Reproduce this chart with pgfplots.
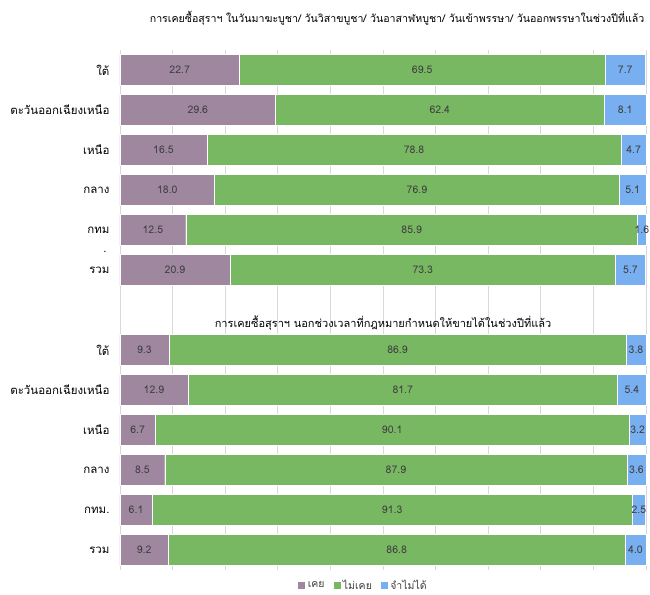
\documentclass[border=0pt]{standalone}
\usepackage{fontspec}
\usepackage{pgfplots}
\usepackage{pgfplotstable}
\pgfplotsset{compat=1.18}
\setmainfont[Script=Thai]{Loma}
\definecolor{cPur}{HTML}{9F87A0}
\definecolor{cGrn}{HTML}{79B862}
\definecolor{cBlu}{HTML}{78AFF0}
\definecolor{cTxt}{HTML}{404040}
\definecolor{cGrid}{HTML}{D9D9D9}
% y = row, a = เคย, b = ไม่เคย, c = จำไม่ได้
\pgfplotstableread{
y a b c
0 22.7 69.5 7.7
1 29.6 62.4 8.1
2 16.5 78.8 4.7
3 18.0 76.9 5.1
4 12.5 85.9 1.6
5 20.9 73.3 5.7
7 9.3 86.9 3.8
8 12.9 81.7 5.4
9 6.7 90.1 3.2
10 8.5 87.9 3.6
11 6.1 91.3 2.5
12 9.2 86.8 4.0
}\tab
\pgfplotstablecreatecol[create col/expr={\thisrow{a}/2}]{ma}\tab
\pgfplotstablecreatecol[create col/expr={\thisrow{a}+\thisrow{b}/2}]{mb}\tab
\pgfplotstablecreatecol[create col/expr={\thisrow{a}+\thisrow{b}+\thisrow{c}/2}]{mc}\tab
\pgfplotsset{
  common/.style={
    scale only axis,
    width=526pt, height=520pt,
    xmin=0, xmax=100,
    ymin=-0.5, ymax=12.5,
    y dir=reverse,
  },
  lbl/.style={
    draw=none, mark=none,
    point meta=explicit,
    nodes near coords={\pgfmathprintnumber[fixed,fixed zerofill,precision=1,assume math mode=true]{\pgfplotspointmeta}},
    every node near coord/.style={anchor=center, inner sep=0pt, font=\fontsize{10.5}{12}\selectfont, text=cTxt},
  },
}
\begin{document}
\begin{tikzpicture}
\path (-120pt,-22pt) rectangle (530pt,570pt);
\begin{axis}[
  common,
  xbar stacked,
  bar width=31pt,
  xtick={0,10,...,100},
  xticklabels={},
  xmajorgrids,
  grid style={cGrid, line width=0.8pt},
  major tick length=0pt,
  axis line style={draw=none},
  ytick={0,1,2,3,4,5,7,8,9,10,11,12},
  yticklabels={ใต้, ตะวันออกเฉียงเหนือ, เหนือ, กลาง, กทม, รวม, ใต้, ตะวันออกเฉียงเหนือ, เหนือ, กลาง, กทม., รวม},
  yticklabel style={font=\fontsize{11.5}{13}\selectfont, text=black, xshift=-7pt},
  legend style={at={(0.462,-0.029)}, anchor=center, legend columns=-1, draw=none, font=\fontsize{10.5}{12}\selectfont, text=cTxt, /tikz/every even column/.append style={column sep=6pt}},
  legend image code/.code={\fill[#1] (0pt,-4pt) rectangle (8pt,4pt);},
  clip=false,
]
\addplot[fill=cPur, draw=white, line width=0.4pt] table[x=a,y=y] {\tab};
\addplot[fill=cGrn, draw=white, line width=0.4pt] table[x=b,y=y] {\tab};
\addplot[fill=cBlu, draw=white, line width=0.4pt] table[x=c,y=y] {\tab};
\legend{เคย, ไม่เคย, จำไม่ได้}
\node[font=\fontsize{11}{12}\selectfont] at (axis cs:50,6.33) {การเคยซื้อสุราฯ นอกช่วงเวลาที่กฎหมายกำหนดให้ขายได้ในช่วงปีที่แล้ว};
\node[font=\fontsize{11.5}{13}\selectfont, anchor=east, xshift=-10pt] at (axis cs:0,4.55) {.};
\end{axis}
\begin{axis}[common, hide axis, clip=false]
\addplot[lbl] table[x=ma, y=y, meta=a] {\tab};
\addplot[lbl] table[x=mb, y=y, meta=b] {\tab};
\addplot[lbl] table[x=mc, y=y, meta=c] {\tab};
\end{axis}
\node[font=\fontsize{10.6}{13}\selectfont] at (277pt,552pt) {การเคยซื้อสุราฯ ในวันมาฆะบูชา/ วันวิสาขบูชา/ วันอาสาฬหบูชา/ วันเข้าพรรษา/ วันออกพรรษาในช่วงปีที่แล้ว};
\end{tikzpicture}
\end{document}
